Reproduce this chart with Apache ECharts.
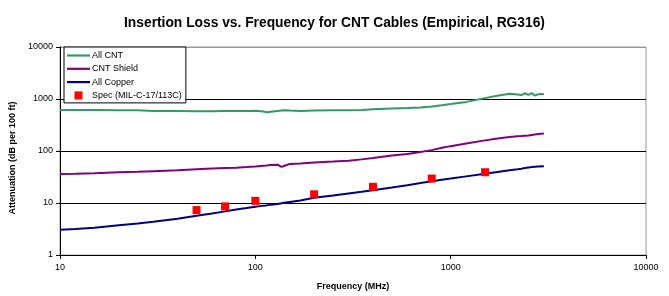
<!DOCTYPE html>
<html>
<head>
<meta charset="utf-8">
<script src="https://cdn.jsdelivr.net/npm/echarts@6/dist/echarts.min.js"></script>
<style>
  html, body { margin: 0; padding: 0; background: #fff; }
  #chart { width: 669px; height: 296px; }
</style>
</head>
<body>
<div id="chart"></div>
<script>
// frequency points (MHz) shared by the three measured curves
const freqs = [10, 12, 15, 20, 25, 30, 40, 50, 60, 70, 80, 90, 100, 110, 114, 120, 130, 136, 140, 150,
  170, 200, 250, 300, 350, 400, 500, 600, 700, 800, 900, 1000, 1200, 1500, 1700, 2000,
  2200, 2300, 2400, 2500, 2600, 2700, 2800, 3000];

const allCnt = [615, 615, 612, 610, 605, 590, 585, 580, 582, 585, 585, 590, 595, 575, 555, 570, 590, 600, 605, 598,
  590, 600, 605, 610, 615, 635, 660, 675, 690, 720, 760, 800, 880, 1040, 1140, 1260,
  1220, 1190, 1290, 1200, 1300, 1170, 1230, 1250];

const cntShield = [36, 36.5, 37.5, 39, 40, 41, 42.5, 44.5, 46, 47, 47.5, 49, 50.5, 52, 52.5, 54, 54.5, 49.5, 51.5, 56.5,
  57.5, 60, 62.5, 65, 69, 73, 82, 88, 96, 104, 115, 124, 140, 160, 172, 185,
  192, 194, 196, 198, 203, 208, 212, 216];

const allCopper = [3.05, 3.15, 3.35, 3.75, 4.05, 4.35, 5.0, 5.7, 6.3, 6.9, 7.5, 8.0, 8.5, 8.9, 9.0, 9.3, 9.6, 9.9, 10.1, 10.5,
  11.2, 12.6, 13.9, 15.2, 16.4, 17.6, 19.8, 22.0, 24.2, 26.3, 28.0, 29.5, 32.5, 36.5, 39.0, 42.5,
  44.5, 45.5, 47, 48, 49, 50, 50.5, 51];

const specFreqs = [50, 70, 100, 200, 400, 800, 1500];
const specLoss = [7.3, 8.6, 11.0, 14.7, 20.5, 29.5, 39];

const seriesNames = ['All CNT', 'CNT Shield', 'All Copper', 'Spec (MIL-C-17/113C)'];

function pairs(xs, ys) {
  return xs.map((x, i) => [x, ys[i]]);
}

function lineSeries(name, values, color) {
  return {
    name: name,
    type: 'line',
    data: pairs(freqs, values),
    showSymbol: false,
    symbol: 'none',
    lineStyle: { color: color, width: 2 },
    itemStyle: { color: color },
    z: 3
  };
}

const fontFamily = '"Liberation Sans", Arial, sans-serif';
const tickFmt = v => String(Math.round(v));
const lineIcon = 'path://M0,0H23V2.2H0Z';

const chart = echarts.init(document.getElementById('chart'));
chart.setOption({
  backgroundColor: '#fff',
  animation: false,
  textStyle: { fontFamily: fontFamily, color: '#000' },
  title: {
    text: 'Insertion Loss vs. Frequency for CNT Cables (Empirical, RG316)',
    left: 'center',
    top: 11,
    textStyle: { fontSize: 13.8, fontWeight: 'bold', color: '#000', fontFamily: fontFamily }
  },
  grid: {
    left: 60, right: 23, top: 47, bottom: 38,
    show: true, borderColor: '#999', borderWidth: 1, backgroundColor: '#fff'
  },
  legend: {
    data: [
      { name: seriesNames[0], icon: lineIcon },
      { name: seriesNames[1], icon: lineIcon },
      { name: seriesNames[2], icon: lineIcon },
      { name: seriesNames[3], icon: 'path://M0,0H10V10H0Z' }
    ],
    orient: 'vertical',
    left: 64,
    top: 47,
    itemWidth: 23,
    itemHeight: 8,
    itemGap: 4.3,
    padding: [4, 4, 3, 3],
    borderColor: '#000',
    borderWidth: 1,
    backgroundColor: '#fff',
    textStyle: { fontSize: 9, color: '#000', fontFamily: fontFamily, padding: [0, 0, 0, -3] }
  },
  xAxis: {
    type: 'log',
    logBase: 10,
    min: 10,
    max: 10000,
    name: 'Frequency (MHz)',
    nameLocation: 'middle',
    nameGap: 27,
    nameTextStyle: { fontSize: 9, fontWeight: 'bold', color: '#000' },
    axisLine: { lineStyle: { color: '#000', width: 1 } },
    axisTick: { show: true, length: 4, lineStyle: { color: '#000' } },
    axisLabel: { fontSize: 9, color: '#000', margin: 8, formatter: tickFmt },
    splitLine: { show: false },
    minorTick: { show: false }
  },
  yAxis: {
    type: 'log',
    logBase: 10,
    min: 1,
    max: 10000,
    name: 'Attenuation (dB per 100 ft)',
    nameLocation: 'middle',
    nameGap: 42,
    nameTextStyle: { fontSize: 9, fontWeight: 'bold', color: '#000', padding: [0, 14, 0, 0] },
    axisLine: { show: true, lineStyle: { color: '#000', width: 1 } },
    axisTick: { show: true, length: 4, lineStyle: { color: '#000' } },
    axisLabel: { fontSize: 9, color: '#000', margin: 7, formatter: tickFmt },
    splitLine: { show: true, lineStyle: { color: ['#000', '#000', '#000', '#000', '#999'], width: 1 } }
  },
  series: [
    lineSeries(seriesNames[0], allCnt, '#339966'),
    lineSeries(seriesNames[1], cntShield, '#800080'),
    lineSeries(seriesNames[2], allCopper, '#000080'),
    {
      name: seriesNames[3],
      type: 'scatter',
      data: pairs(specFreqs, specLoss),
      symbol: 'rect',
      symbolSize: 8,
      itemStyle: { color: '#ff0000', opacity: 1 },
      z: 4
    }
  ]
});
</script>
</body>
</html>
